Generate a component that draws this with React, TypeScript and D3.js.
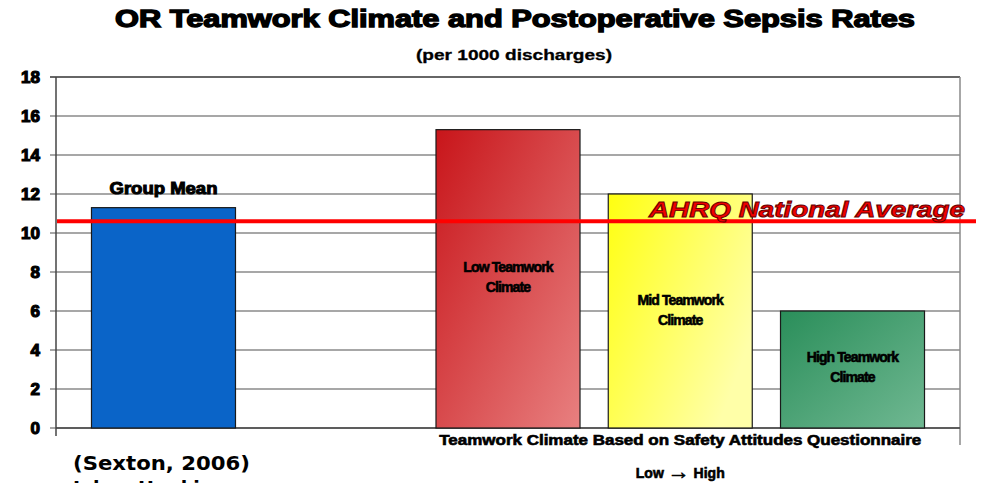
import React from "react";
import * as d3 from "d3";

// slots on the x axis, "" is the empty gap between the mean and the three groups
const slots = ["Group Mean", "", "Low", "Mid", "High"];
const barKeys = ["Group Mean", "Low", "Mid", "High"];
const barValues = [11.3, 15.3, 12.0, 6.0];
const barLabels = [[], ["Low Teamwork", "Climate"], ["Mid Teamwork", "Climate"], ["High Teamwork", "Climate"]];
const yTicks = [0, 2, 4, 6, 8, 10, 12, 14, 16, 18];
const nationalAverage = 10.6;

const W = 984;
const H = 483;
const margin = { top: 77, right: 24, bottom: 55, left: 56 };

const App = () => {
  const x = d3
    .scaleBand()
    .domain(slots)
    .range([margin.left, W - margin.right])
    .paddingInner(0.164)
    .paddingOuter(0.206);
  const y = d3.scaleLinear().domain([0, 18]).range([H - margin.bottom, margin.top]);

  const heavy = "'Liberation Sans', Arial, sans-serif";
  const labelY = [0, 267, 300, 357];
  const fills = ["#0a64c8", "url(#gRed)", "url(#gYellow)", "url(#gGreen)"];
  const midX = (x("Low")! + x("High")! + x.bandwidth()) / 2;

  return (
    <svg width={W} height={H} style={{ position: "absolute", left: 0, top: 0, background: "#fff" }}>
      <defs>
        <linearGradient id="gRed" x1="0" y1="0" x2="1" y2="1">
          <stop offset="0%" stopColor="#c8151a" />
          <stop offset="100%" stopColor="#e88080" />
        </linearGradient>
        <linearGradient id="gYellow" x1="0" y1="0" x2="1" y2="0.6">
          <stop offset="0%" stopColor="#ffff10" />
          <stop offset="100%" stopColor="#ffffa8" />
        </linearGradient>
        <linearGradient id="gGreen" x1="0" y1="0" x2="1" y2="1">
          <stop offset="0%" stopColor="#2a8e5a" />
          <stop offset="100%" stopColor="#70b892" />
        </linearGradient>
      </defs>

      <text x={515} y={27} textAnchor="middle" fontFamily={heavy} fontWeight="bold" fontSize={23}
        stroke="#000" strokeWidth={1.3} textLength={800} lengthAdjust="spacingAndGlyphs">
        OR Teamwork Climate and Postoperative Sepsis Rates
      </text>
      <text x={514} y={60} textAnchor="middle" fontFamily={heavy} fontWeight="bold" fontSize={15}
        stroke="#000" strokeWidth={0.3} textLength={196} lengthAdjust="spacingAndGlyphs">
        (per 1000 discharges)
      </text>

      {/* grid */}
      {yTicks.map((t) => (
        <g key={t}>
          <line x1={margin.left - 6} x2={W - margin.right} y1={y(t)} y2={y(t)}
            stroke={t === 18 ? "#333" : "#8a8a8a"} strokeWidth={1.5} />
          <text x={40} y={y(t) + 6} textAnchor="end" fontFamily={heavy} fontWeight="bold"
            fontSize={17} stroke="#000" strokeWidth={1.2}>
            {t}
          </text>
        </g>
      ))}
      <line x1={W - margin.right} x2={W - margin.right} y1={y(18)} y2={y(0) + 17} stroke="#8a8a8a" strokeWidth={1.5} />
      <line x1={margin.left} x2={margin.left} y1={y(18)} y2={y(0) + 8} stroke="#444" strokeWidth={1.5} />
      <line x1={margin.left} x2={W - margin.right} y1={y(0)} y2={y(0)} stroke="#444" strokeWidth={1.5} />

      {/* bars */}
      {barKeys.map((k, i) => (
        <rect key={k} x={x(k)} y={y(barValues[i])} width={x.bandwidth()} height={y(0) - y(barValues[i])}
          fill={fills[i]} stroke="#1a1a1a" strokeWidth={1.2} />
      ))}

      <text x={x("Group Mean")! + x.bandwidth() / 2} y={y(barValues[0]) - 14} textAnchor="middle"
        fontFamily={heavy} fontWeight="bold" fontSize={16} stroke="#000" strokeWidth={1}
        textLength={108} lengthAdjust="spacingAndGlyphs">
        Group Mean
      </text>

      {barKeys.map((k, i) =>
        barLabels[i].map((line, j) => (
          <text key={k + j} x={x(k)! + x.bandwidth() / 2} y={labelY[i] + j * 20 + 5} textAnchor="middle"
            fontFamily={heavy} fontWeight="bold" fontSize={14} stroke="#000" strokeWidth={0.6}
            letterSpacing={-0.9}>
            {line}
          </text>
        ))
      )}

      {/* national average */}
      <line x1={margin.left + 1} x2={976} y1={y(nationalAverage)} y2={y(nationalAverage)}
        stroke="#ff0000" strokeWidth={4} />
      <text x={965} y={217} textAnchor="end" fontFamily={heavy} fontWeight="bold" fontStyle="italic"
        fontSize={22} fill="#f00000" stroke="#600" strokeWidth={0.9} textLength={316}
        lengthAdjust="spacingAndGlyphs">
        AHRQ National Average
      </text>

      {/* x axis titles */}
      <text x={midX} y={445} textAnchor="middle" fontFamily={heavy} fontWeight="bold" fontSize={14}
        stroke="#000" strokeWidth={0.6} textLength={482} lengthAdjust="spacingAndGlyphs">
        Teamwork Climate Based on Safety Attitudes Questionnaire
      </text>
      <text x={midX} y={478} textAnchor="middle" fontFamily={heavy} fontWeight="bold" fontSize={14}
        stroke="#000" strokeWidth={0.6}>
        Low <tspan fontSize={22} dy={1}>{"\u2192"}</tspan><tspan dy={-1}> High</tspan>
      </text>

      <text x={73} y={470} fontFamily="'DejaVu Sans', Verdana, sans-serif" fontWeight="bold" fontSize={19}
        textLength={177} lengthAdjust="spacingAndGlyphs">
        (Sexton, 2006)
      </text>
      <text x={73} y={495} fontFamily="'DejaVu Sans', Verdana, sans-serif" fontWeight="bold" fontSize={19}>
        Johns Hopkins
      </text>
    </svg>
  );
};

export default App;
